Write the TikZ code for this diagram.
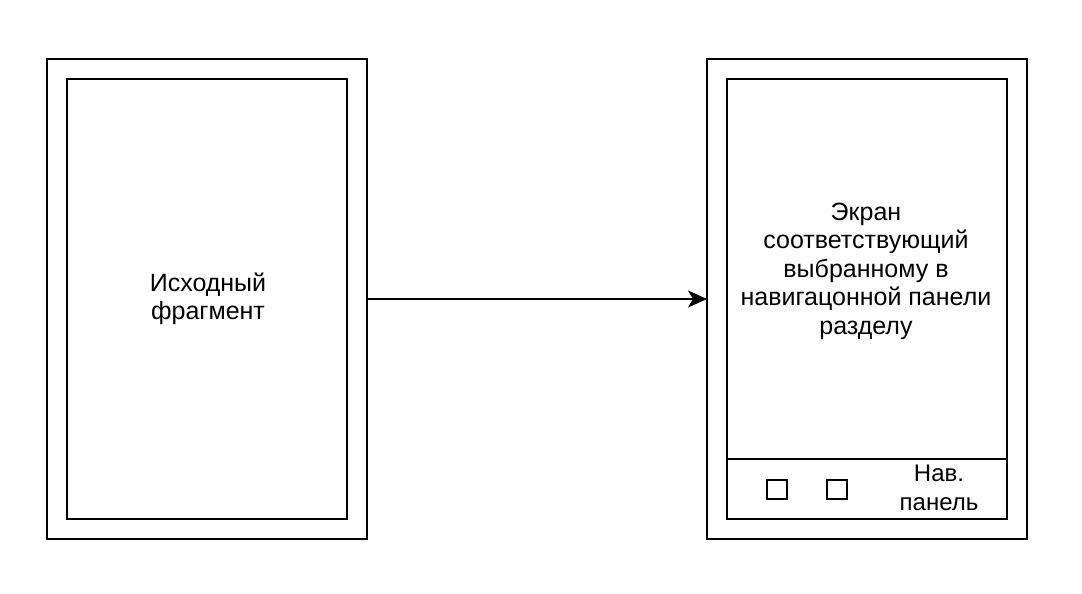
\documentclass[tikz,border=0pt]{standalone}
\usepackage{fontspec}
\setmainfont{Liberation Sans}
\usetikzlibrary{arrows.meta}
\begin{document}
\begin{tikzpicture}[x=1pt,y=-1pt,
  frame/.style={draw=black,line width=2.2pt,fill=white},
  label/.style={align=center,font=\fontsize{25}{28.5}\selectfont,inner sep=0pt},
  navlabel/.style={align=center,font=\fontsize{24}{28.5}\selectfont,inner sep=0pt},
  conn/.style={line width=2pt,-{Stealth[length=19pt,width=17pt,inset=5pt]}}]
\useasboundingbox[fill=white] (0,0) rectangle (1082,594);
% source fragment
\draw[frame] (47,59) rectangle (367,539);
\draw[frame] (67,79) rectangle (347,519);
\node[label] (src) at (208,299) {Исходный\\фрагмент};
\coordinate (srcout) at (367,299);
% target screen with navigation bar
\draw[frame] (707,59) rectangle (1027,539);
\draw[frame] (727,79) rectangle (1007,519);
\draw[line width=2.2pt] (727,459) -- (1007,459);
\node[label] (dst) at (866,271) {Экран\\соответствующий\\выбранному в\\навигацонной панели\\разделу};
\draw[line width=2pt] (767,480) rectangle (787,499);
\draw[line width=2pt] (827,480) rectangle (847,499);
\node[navlabel] (nav) at (939,488) {Нав.\\панель};
\coordinate (dstin) at (707,299);
\draw[conn] (srcout) -- (dstin);
\end{tikzpicture}
\end{document}
